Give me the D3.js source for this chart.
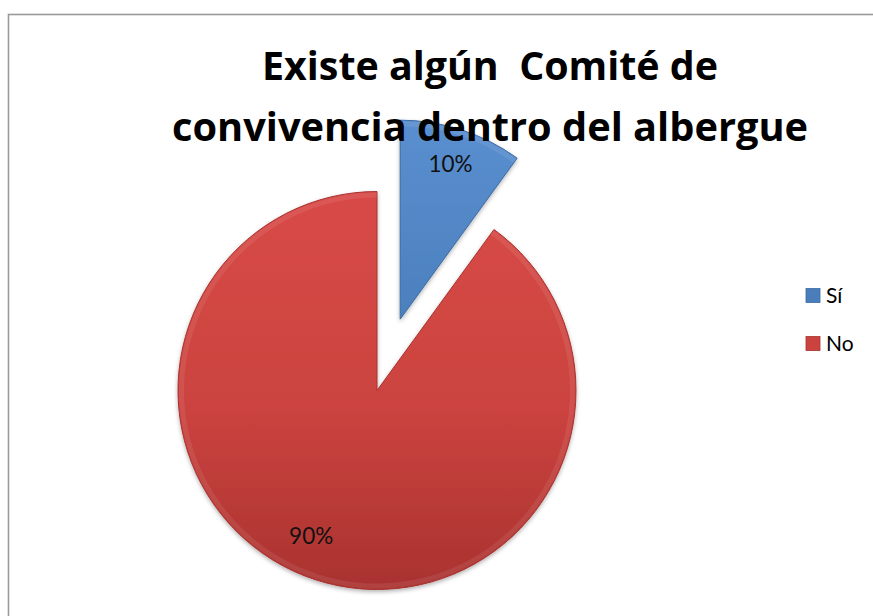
<!DOCTYPE html>
<html><head><meta charset="utf-8">
<script src="https://cdn.jsdelivr.net/npm/d3@7"></script>
<style>html,body{margin:0;padding:0;background:#fff;overflow:hidden}</style>
</head><body>
<svg id="c" width="873" height="616"></svg>
<script>
const categories = ["Sí", "No"];
const values = [10, 90];
const labels = ["10%", "90%"];
const titleLines = ["Existe algún  Comité de", "convivencia dentro del albergue"];

const svg = d3.select("#c");
svg.append("rect").attr("x", 8.5).attr("y", 14.5).attr("width", 900).attr("height", 700)
  .attr("fill", "#fff").attr("stroke", "#9a9a9a").attr("stroke-width", 1.6);

const defs = svg.append("defs");
const palettes = [
  {top: "#5a8fd0", mid: "#4a7ebb", bot: "#3b6aa3"},
  {top: "#d84a47", mid: "#cb433f", bot: "#a9322f"}
];
palettes.forEach((p, i) => {
  const g = defs.append("linearGradient").attr("id", "g" + i)
    .attr("gradientUnits", "userSpaceOnUse")
    .attr("x1", 0).attr("y1", -200).attr("x2", 0).attr("y2", 200);
  g.append("stop").attr("offset", "0%").attr("stop-color", p.top);
  g.append("stop").attr("offset", "55%").attr("stop-color", p.mid);
  g.append("stop").attr("offset", "100%").attr("stop-color", p.bot);
});
const f = defs.append("filter").attr("id", "sh").attr("x", "-20%").attr("y", "-20%").attr("width", "140%").attr("height", "140%");
f.append("feDropShadow").attr("dx", 0).attr("dy", 2).attr("stdDeviation", 2).attr("flood-color", "#000").attr("flood-opacity", 0.3);

const cx = 377, cy = 390.5, R = 199;
const explode = [75, 0];
const pie = d3.pie().sort(null).value(d => d)(values);
const arc = d3.arc().innerRadius(0).outerRadius(R);

const slices = svg.append("g").attr("transform", `translate(${cx},${cy})`);
pie.forEach((d, i) => {
  const mid = (d.startAngle + d.endAngle) / 2;
  const ox = explode[i] * Math.sin(mid), oy = -explode[i] * Math.cos(mid);
  const g = slices.append("g").attr("transform", `translate(${ox},${oy})`);
  g.append("path").attr("d", arc(d)).attr("fill", `url(#g${i})`).attr("filter", "url(#sh)")
    .attr("stroke", palettes[i].bot).attr("stroke-width", 1);
  g.append("path").attr("d", d3.arc().innerRadius(R - 6).outerRadius(R - 1)(d))
    .attr("fill", "#fff").attr("opacity", 0.08);
});

const font = "Lato, 'Open Sans', sans-serif";
const labelR = [163, 160];
const labelShift = [0, 0.11];
pie.forEach((d, i) => {
  const mid = (d.startAngle + d.endAngle) / 2;
  const ox = explode[i] * Math.sin(mid), oy = -explode[i] * Math.cos(mid);
  const a = mid + labelShift[i];
  const x = cx + ox + labelR[i] * Math.sin(a), y = cy + oy - labelR[i] * Math.cos(a);
  svg.append("text").attr("x", x).attr("y", y + 8).attr("text-anchor", "middle")
    .attr("font-family", font).attr("font-size", 22.5).attr("fill", "#111")
    .text(labels[i]);
});

const tw = [456, 636], ty = [80, 141];
titleLines.forEach((t, i) => {
  svg.append("text").attr("x", 490).attr("y", ty[i]).attr("text-anchor", "middle")
    .attr("font-family", "'Open Sans', Lato, sans-serif").attr("font-weight", "bold")
    .attr("font-size", 40).attr("fill", "#000").style("white-space", "pre")
    .attr("textLength", tw[i]).attr("lengthAdjust", "spacingAndGlyphs")
    .text(t);
});

const leg = svg.append("g");
categories.forEach((c, i) => {
  const y = 295.5 + i * 48;
  leg.append("rect").attr("x", 806).attr("y", y - 7).attr("width", 14).attr("height", 14)
    .attr("fill", palettes[i].mid).attr("stroke", palettes[i].bot).attr("stroke-width", 0.8);
  leg.append("text").attr("x", 826).attr("y", y + 7)
    .attr("font-family", font).attr("font-size", 21).attr("fill", "#000")
    .text(c);
});
</script>
</body></html>
